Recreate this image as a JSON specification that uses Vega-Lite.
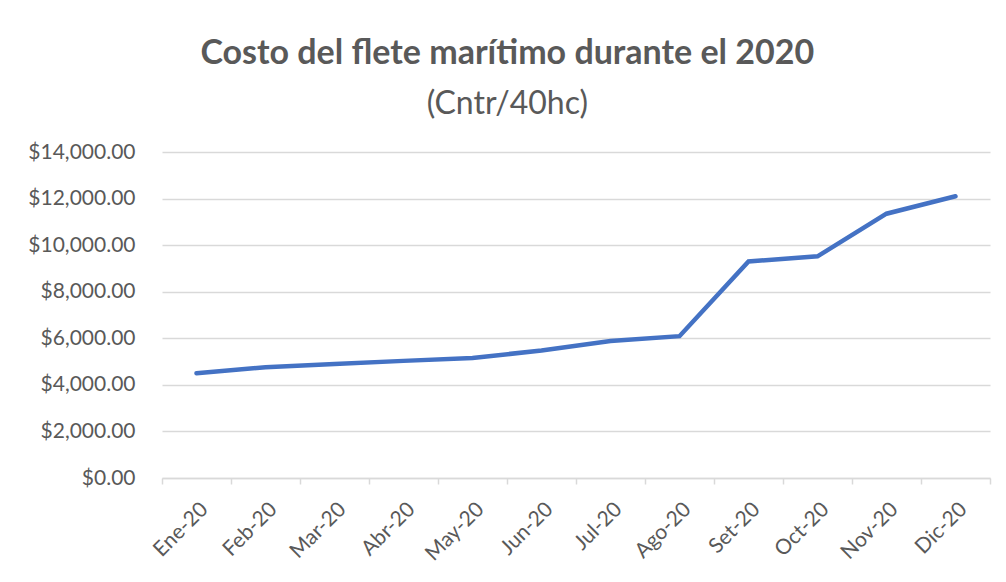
{
  "$schema": "https://vega.github.io/schema/vega-lite/v6.json",
  "autosize": "none",
  "width": 828,
  "height": 326,
  "padding": {"left": 162, "top": 152, "right": 16, "bottom": 104},
  "background": "white",
  "title": {
    "text": "Costo del flete marítimo durante el 2020",
    "subtitle": "(Cntr/40hc)",
    "anchor": "middle",
    "frame": "bounds",
    "font": "Lato",
    "fontSize": 34,
    "fontWeight": "bold",
    "color": "#595959",
    "subtitleFont": "Lato",
    "subtitleFontSize": 32,
    "subtitleColor": "#595959",
    "subtitlePadding": 18,
    "offset": 21,
    "dx": -2
  },
  "data": {
    "values": [
      {"mes": "Ene-20", "costo": 4500},
      {"mes": "Feb-20", "costo": 4760},
      {"mes": "Mar-20", "costo": 4900},
      {"mes": "Abr-20", "costo": 5030},
      {"mes": "May-20", "costo": 5150},
      {"mes": "Jun-20", "costo": 5480},
      {"mes": "Jul-20", "costo": 5880},
      {"mes": "Ago-20", "costo": 6090},
      {"mes": "Set-20", "costo": 9300},
      {"mes": "Oct-20", "costo": 9520},
      {"mes": "Nov-20", "costo": 11350},
      {"mes": "Dic-20", "costo": 12100}
    ]
  },
  "mark": {"type": "line", "color": "#4472C4", "strokeWidth": 4.5, "strokeCap": "round", "strokeJoin": "miter"},
  "encoding": {
    "x": {
      "field": "mes",
      "type": "ordinal",
      "sort": null,
      "scale": {"type": "band", "paddingInner": 0, "paddingOuter": 0},
      "axis": {
        "title": null,
        "labelAngle": -45,
        "labelFont": "Lato",
        "labelFontSize": 21,
        "labelColor": "#595959",
        "labelPadding": 14,
        "tickBand": "extent",
        "tickSize": 6,
        "tickColor": "#d9d9d9",
        "tickWidth": 1.5,
        "domainColor": "#d9d9d9",
        "domainWidth": 1.5,
        "grid": false
      }
    },
    "y": {
      "field": "costo",
      "type": "quantitative",
      "scale": {"domain": [0, 14000]},
      "axis": {
        "title": null,
        "values": [0, 2000, 4000, 6000, 8000, 10000, 12000, 14000],
        "format": "$,.2f",
        "labelFont": "Lato",
        "labelFontSize": 21,
        "labelColor": "#595959",
        "labelPadding": 27,
        "ticks": false,
        "domain": false,
        "grid": true,
        "gridColor": "#d9d9d9",
        "gridWidth": 1.5
      }
    }
  },
  "config": {"view": {"stroke": null}}
}
